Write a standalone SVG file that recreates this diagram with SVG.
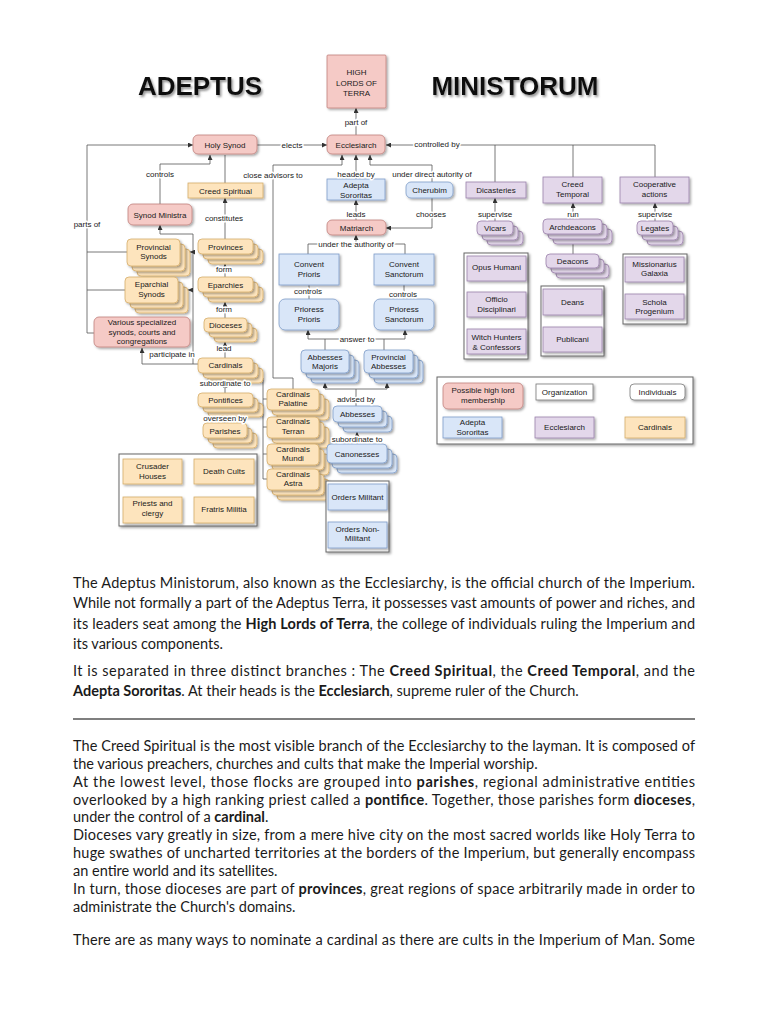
<svg xmlns="http://www.w3.org/2000/svg" width="768" height="1024" viewBox="0 0 768 1024">
<defs>
<filter id="sh" x="-20%" y="-20%" width="150%" height="160%"><feDropShadow dx="1.5" dy="1.5" stdDeviation="0.8" flood-color="#000" flood-opacity="0.35"/></filter>
<filter id="tsh" x="-10%" y="-20%" width="130%" height="160%"><feDropShadow dx="1.5" dy="2" stdDeviation="1.2" flood-color="#666" flood-opacity="0.7"/></filter>
<marker id="ar" viewBox="0 0 6 6" refX="6" refY="3" markerWidth="5" markerHeight="5" markerUnits="userSpaceOnUse" orient="auto"><path d="M0,0 L6,3 L0,6 z" fill="#333"/></marker>
<style>
rect{stroke-width:0.8;filter:url(#sh)}
.p{fill:#f5cac6;stroke:#c0807c}
.b{fill:#d9e6f8;stroke:#7d9cc8}
.u{fill:#e3d7ea;stroke:#9a80ab}
.o{fill:#fde4bd;stroke:#d5ad6a}
.w{fill:#fff;stroke:#777}
.g{fill:#fff;stroke:#666;stroke-width:1}
.n{font-family:"Liberation Sans",Arial,sans-serif;font-size:8px;fill:#1a1a1a;text-anchor:middle}
.l{font-family:"Liberation Sans",Arial,sans-serif;font-size:8px;fill:#1a1a1a;text-anchor:middle;paint-order:stroke;stroke:#fff;stroke-width:3px;stroke-linejoin:round}
.c path{fill:none;stroke:#555;stroke-width:0.8}
.t{font-family:"Liberation Sans",Arial,sans-serif;font-weight:bold;font-size:26px;fill:#111;text-anchor:middle;filter:url(#tsh)}
.x{font-family:Lato,"Open Sans",sans-serif;font-size:14.5px;fill:#1a1a1a}
.x tspan.bd{font-weight:bold}
</style>
</defs>
<rect x="0" y="0" width="768" height="1024" fill="#fff" style="filter:none;stroke:none"/>

<text class="t" x="200" y="95">ADEPTUS</text>
<text class="t" x="515" y="95">MINISTORUM</text>

<g id="connectors" class="c">
<path d="M356,135 V108" marker-end="url(#ar)"/>
<path d="M257,145 H327" marker-end="url(#ar)"/>
<path d="M655,177 V145 H386" marker-end="url(#ar)"/>
<path d="M495,182 V145"/>
<path d="M573,177 V145"/>
<path d="M94,333 H87 V145 H193" marker-end="url(#ar)"/>
<path d="M127,252 H87"/>
<path d="M125,290 H87"/>
<path d="M160,204 V164 H210 V155" marker-end="url(#ar)"/>
<path d="M225,155 V183"/>
<path d="M293,389 V378 H273 V165 H342 V155" marker-end="url(#ar)"/>
<path d="M356,179 V155" marker-end="url(#ar)"/>
<path d="M432,182 V165 H370 V155" marker-end="url(#ar)"/>
<path d="M356,220 V200" marker-end="url(#ar)"/>
<path d="M432,198 V228 H386" marker-end="url(#ar)"/>
<path d="M308,254 V244 H405 V254"/>
<path d="M356,244 V235" marker-end="url(#ar)"/>
<path d="M309,299 V285"/>
<path d="M404,299 V285"/>
<path d="M325,350 V339"/>
<path d="M384,350 V339"/>
<path d="M308,339 H405"/>
<path d="M308,339 V330" marker-end="url(#ar)"/>
<path d="M405,339 V330" marker-end="url(#ar)"/>
<path d="M356,406 V389"/>
<path d="M325,389 H387"/>
<path d="M325,389 V383" marker-end="url(#ar)"/>
<path d="M387,389 V383" marker-end="url(#ar)"/>
<path d="M357,444 V432" marker-end="url(#ar)"/>
<path d="M225,239 V198" marker-end="url(#ar)"/>
<path d="M225,277 V264" marker-end="url(#ar)"/>
<path d="M225,318 V302" marker-end="url(#ar)"/>
<path d="M225,358 V342" marker-end="url(#ar)"/>
<path d="M225,393 V383" marker-end="url(#ar)"/>
<path d="M225,423 V417" marker-end="url(#ar)"/>
<path d="M198,364 H142 V348" marker-end="url(#ar)"/>
<path d="M193,364 V234 H160 V225" marker-end="url(#ar)"/>
<path d="M193,252 H190" marker-end="url(#ar)"/>
<path d="M193,290 H188" marker-end="url(#ar)"/>
<path d="M263,378 V479"/>
<path d="M263,399 H267"/>
<path d="M263,427 H267"/>
<path d="M263,454 H267"/>
<path d="M263,479 H267"/>
<path d="M495,221 V198" marker-end="url(#ar)"/>
<path d="M573,219 V203" marker-end="url(#ar)"/>
<path d="M655,221 V203" marker-end="url(#ar)"/>
<path d="M573,234 V254"/>
</g>

<g id="high-lords"><rect class="p" x="327" y="55" width="59" height="53" rx="1"/><text class="n" x="356.5" y="75">HIGH</text><text class="n" x="356.5" y="85.5">LORDS OF</text><text class="n" x="356.5" y="96">TERRA</text></g>
<g id="ecclesiarch"><rect class="p" x="327" y="135" width="58" height="19" rx="5"/><text class="n" x="356" y="147.5">Ecclesiarch</text></g>
<g id="holy-synod"><rect class="p" x="193" y="135" width="64" height="19" rx="5"/><text class="n" x="225" y="147.5">Holy Synod</text></g>
<g id="adepta-sororitas"><rect class="b" x="327" y="179" width="58" height="21"/><text class="n" x="356" y="187.5">Adepta</text><text class="n" x="356" y="197.5">Sororitas</text></g>
<g id="cherubim"><rect class="b" x="406" y="182" width="47" height="16" rx="5"/><text class="n" x="429.5" y="193">Cherubim</text></g>
<g id="dicasteries"><rect class="u" x="466" y="182" width="60" height="16"/><text class="n" x="496" y="193">Dicasteries</text></g>
<g id="creed-temporal"><rect class="u" x="543" y="177" width="59" height="26"/><text class="n" x="572.5" y="187">Creed</text><text class="n" x="572.5" y="196.5">Temporal</text></g>
<g id="cooperative-actions"><rect class="u" x="620" y="177" width="69" height="26"/><text class="n" x="654.5" y="187">Cooperative</text><text class="n" x="654.5" y="196.5">actions</text></g>
<g id="creed-spiritual"><rect class="o" x="188" y="183" width="75" height="15"/><text class="n" x="225.5" y="193.5">Creed Spiritual</text></g>
<g id="synod-ministra"><rect class="p" x="128" y="204" width="64" height="21" rx="5"/><text class="n" x="160" y="217.5">Synod Ministra</text></g>
<g id="matriarch"><rect class="p" x="327" y="220" width="59" height="15" rx="5"/><text class="n" x="356.5" y="230.5">Matriarch</text></g>
<g id="vicars"><rect class="u" x="487" y="231" width="36" height="14" rx="4"/><rect class="u" x="482" y="226" width="36" height="14" rx="4"/><rect class="u" x="477" y="221" width="36" height="14" rx="4"/><text class="n" x="495" y="231">Vicars</text></g>
<g id="archdeacons"><rect class="u" x="553" y="229" width="59" height="15" rx="4"/><rect class="u" x="548" y="224" width="59" height="15" rx="4"/><rect class="u" x="543" y="219" width="59" height="15" rx="4"/><text class="n" x="572.5" y="229.5">Archdeacons</text></g>
<g id="legates"><rect class="u" x="647" y="231" width="36" height="14" rx="4"/><rect class="u" x="642" y="226" width="36" height="14" rx="4"/><rect class="u" x="637" y="221" width="36" height="14" rx="4"/><text class="n" x="655" y="231">Legates</text></g>
<g id="deacons"><rect class="u" x="556" y="264" width="53" height="14" rx="4"/><rect class="u" x="551" y="259" width="53" height="14" rx="4"/><rect class="u" x="546" y="254" width="53" height="14" rx="4"/><text class="n" x="572.5" y="264">Deacons</text></g>
<g id="provinces"><rect class="o" x="208" y="249" width="55" height="15" rx="4"/><rect class="o" x="203" y="244" width="55" height="15" rx="4"/><rect class="o" x="198" y="239" width="55" height="15" rx="4"/><text class="n" x="225.5" y="249.5">Provinces</text></g>
<g id="provincial-synods"><rect class="o" x="137" y="249" width="53" height="27" rx="4"/><rect class="o" x="132" y="244" width="53" height="27" rx="4"/><rect class="o" x="127" y="239" width="53" height="27" rx="4"/><text class="n" x="153.5" y="249.7">Provincial</text><text class="n" x="153.5" y="259">Synods</text></g>
<g id="convent-prioris"><rect class="b" x="279" y="254" width="60" height="31"/><text class="n" x="309" y="267">Convent</text><text class="n" x="309" y="276.5">Prioris</text></g>
<g id="convent-sanctorum"><rect class="b" x="374" y="254" width="60" height="31"/><text class="n" x="404" y="267">Convent</text><text class="n" x="404" y="276.5">Sanctorum</text></g>
<g id="eparchies"><rect class="o" x="208" y="287" width="55" height="15" rx="4"/><rect class="o" x="203" y="282" width="55" height="15" rx="4"/><rect class="o" x="198" y="277" width="55" height="15" rx="4"/><text class="n" x="225.5" y="287.5">Eparchies</text></g>
<g id="eparchial-synods"><rect class="o" x="135" y="287" width="53" height="26" rx="4"/><rect class="o" x="130" y="282" width="53" height="26" rx="4"/><rect class="o" x="125" y="277" width="53" height="26" rx="4"/><text class="n" x="151.5" y="287.3">Eparchial</text><text class="n" x="151.5" y="296.5">Synods</text></g>
<g id="prioress-prioris"><rect class="b" x="279" y="299" width="60" height="31" rx="6"/><text class="n" x="309" y="312">Prioress</text><text class="n" x="309" y="321.5">Prioris</text></g>
<g id="prioress-sanctorum"><rect class="b" x="374" y="299" width="60" height="31" rx="6"/><text class="n" x="404" y="312">Prioress</text><text class="n" x="404" y="321.5">Sanctorum</text></g>
<g id="dioceses"><rect class="o" x="214" y="328" width="43" height="14" rx="4"/><rect class="o" x="209" y="323" width="43" height="14" rx="4"/><rect class="o" x="204" y="318" width="43" height="14" rx="4"/><text class="n" x="225.5" y="328">Dioceses</text></g>
<g id="various-synods"><rect class="p" x="94" y="317" width="96" height="30" rx="5"/><text class="n" x="142" y="325.3">Various specialized</text><text class="n" x="142" y="334.7">synods, courts and</text><text class="n" x="142" y="344">congregations</text></g>
<g id="abbesses-majoris"><rect class="b" x="311" y="360" width="48" height="23" rx="4"/><rect class="b" x="306" y="355" width="48" height="23" rx="4"/><rect class="b" x="301" y="350" width="48" height="23" rx="4"/><text class="n" x="325" y="359.7">Abbesses</text><text class="n" x="325" y="369">Majoris</text></g>
<g id="provincial-abbesses"><rect class="b" x="374" y="360" width="49" height="23" rx="4"/><rect class="b" x="369" y="355" width="49" height="23" rx="4"/><rect class="b" x="364" y="350" width="49" height="23" rx="4"/><text class="n" x="388.5" y="359.7">Provincial</text><text class="n" x="388.5" y="369">Abbesses</text></g>
<g id="cardinals"><rect class="o" x="208" y="368" width="55" height="15" rx="4"/><rect class="o" x="203" y="363" width="55" height="15" rx="4"/><rect class="o" x="198" y="358" width="55" height="15" rx="4"/><text class="n" x="225.5" y="368">Cardinals</text></g>
<g id="pontifices"><rect class="o" x="208" y="403" width="55" height="14" rx="4"/><rect class="o" x="203" y="398" width="55" height="14" rx="4"/><rect class="o" x="198" y="393" width="55" height="14" rx="4"/><text class="n" x="225.5" y="402.5">Pontifices</text></g>
<g id="parishes"><rect class="o" x="213" y="433" width="44" height="15" rx="4"/><rect class="o" x="208" y="428" width="44" height="15" rx="4"/><rect class="o" x="203" y="423" width="44" height="15" rx="4"/><text class="n" x="225" y="434">Parishes</text></g>
<g id="cardinals-palatine"><rect class="o" x="277" y="399" width="52" height="21" rx="4"/><rect class="o" x="272" y="394" width="52" height="21" rx="4"/><rect class="o" x="267" y="389" width="52" height="21" rx="4"/><text class="n" x="293" y="397">Cardinals</text><text class="n" x="293" y="406.3">Palatine</text></g>
<g id="cardinals-terran"><rect class="o" x="277" y="427" width="52" height="21" rx="4"/><rect class="o" x="272" y="422" width="52" height="21" rx="4"/><rect class="o" x="267" y="417" width="52" height="21" rx="4"/><text class="n" x="293" y="424">Cardinals</text><text class="n" x="293" y="433.7">Terran</text></g>
<g id="cardinals-mundi"><rect class="o" x="277" y="454" width="52" height="21" rx="4"/><rect class="o" x="272" y="449" width="52" height="21" rx="4"/><rect class="o" x="267" y="444" width="52" height="21" rx="4"/><text class="n" x="293" y="452">Cardinals</text><text class="n" x="293" y="461.3">Mundi</text></g>
<g id="cardinals-astra"><rect class="o" x="277" y="479" width="52" height="21" rx="4"/><rect class="o" x="272" y="474" width="52" height="21" rx="4"/><rect class="o" x="267" y="469" width="52" height="21" rx="4"/><text class="n" x="293" y="476.7">Cardinals</text><text class="n" x="293" y="486.3">Astra</text></g>
<g id="abbesses"><rect class="b" x="343" y="416" width="49" height="16" rx="4"/><rect class="b" x="338" y="411" width="49" height="16" rx="4"/><rect class="b" x="333" y="406" width="49" height="16" rx="4"/><text class="n" x="357.5" y="417">Abbesses</text></g>
<g id="canonesses"><rect class="b" x="337" y="454" width="60" height="19" rx="4"/><rect class="b" x="332" y="449" width="60" height="19" rx="4"/><rect class="b" x="327" y="444" width="60" height="19" rx="4"/><text class="n" x="357" y="457">Canonesses</text></g>

<g id="spiritual-group"><rect class="g" x="119" y="454" width="138" height="72"/>
<rect class="o" x="123" y="459" width="59" height="25"/><text class="n" x="152.5" y="469">Crusader</text><text class="n" x="152.5" y="478.7">Houses</text>
<rect class="o" x="194" y="459" width="60" height="25"/><text class="n" x="224" y="474">Death Cults</text>
<rect class="o" x="123" y="497" width="59" height="26"/><text class="n" x="152.5" y="506.3">Priests and</text><text class="n" x="152.5" y="516.3">clergy</text>
<rect class="o" x="194" y="497" width="60" height="26"/><text class="n" x="224" y="512">Fratris Militia</text></g>
<g id="orders-group"><rect class="g" x="326" y="481" width="63" height="71"/>
<rect class="b" x="328" y="484" width="59" height="26"/><text class="n" x="357.5" y="499.7">Orders Militant</text>
<rect class="b" x="328" y="522" width="59" height="26"/><text class="n" x="357.5" y="532.3">Orders Non-</text><text class="n" x="357.5" y="541.3">Militant</text></g>
<g id="dicasteries-group"><rect class="g" x="464" y="253" width="64" height="106"/>
<rect class="u" x="467" y="256" width="59" height="25"/><text class="n" x="496.5" y="269.7">Opus Humani</text>
<rect class="u" x="467" y="292" width="59" height="25"/><text class="n" x="496.5" y="302">Officio</text><text class="n" x="496.5" y="311.7">Disciplinari</text>
<rect class="u" x="467" y="329" width="59" height="25"/><text class="n" x="496.5" y="339.7">Witch Hunters</text><text class="n" x="496.5" y="349.7">&amp; Confessors</text></g>
<g id="deacons-group"><rect class="g" x="541" y="286" width="63" height="70"/>
<rect class="u" x="543" y="289" width="59" height="26"/><text class="n" x="572.5" y="304.7">Deans</text>
<rect class="u" x="543" y="327" width="59" height="25"/><text class="n" x="572.5" y="342.3">Publicani</text></g>
<g id="cooperative-group"><rect class="g" x="623" y="254" width="64" height="70"/>
<rect class="u" x="625" y="257" width="59" height="25"/><text class="n" x="654.5" y="267">Missionarius</text><text class="n" x="654.5" y="276.3">Galaxia</text>
<rect class="u" x="625" y="294" width="59" height="25"/><text class="n" x="654.5" y="304.7">Schola</text><text class="n" x="654.5" y="314">Progenium</text></g>
<g id="legend"><rect class="g" x="437" y="377" width="256" height="67"/>
<rect class="p" x="443" y="383" width="80" height="26" rx="5"/><text class="n" x="483" y="393">Possible high lord</text><text class="n" x="483" y="403">membership</text>
<rect class="w" x="536" y="384" width="57" height="16"/><text class="n" x="564.5" y="394.7">Organization</text>
<rect class="w" x="630" y="384" width="55" height="16" rx="4"/><text class="n" x="657.5" y="394.7">Individuals</text>
<rect class="b" x="443" y="417" width="59" height="21"/><text class="n" x="472.5" y="424.7">Adepta</text><text class="n" x="472.5" y="434.7">Sororitas</text>
<rect class="u" x="535" y="417" width="59" height="21"/><text class="n" x="564.5" y="429.7">Ecclesiarch</text>
<rect class="o" x="625" y="417" width="60" height="21"/><text class="n" x="655" y="429.7">Cardinals</text></g>

<g id="connector-labels">
<text class="l" x="356" y="125">part of</text>
<text class="l" x="292" y="148">elects</text>
<text class="l" x="437" y="147">controlled by</text>
<text class="l" x="87" y="227">parts of</text>
<text class="l" x="160" y="177">controls</text>
<text class="l" x="273" y="178">close advisors to</text>
<text class="l" x="356" y="177">headed by</text>
<text class="l" x="432" y="177">under direct autority of</text>
<text class="l" x="356" y="217">leads</text>
<text class="l" x="431" y="217">chooses</text>
<text class="l" x="495" y="217">supervise</text>
<text class="l" x="573" y="217">run</text>
<text class="l" x="655" y="217">supervise</text>
<text class="l" x="224" y="221">constitutes</text>
<text class="l" x="356" y="247">under the authority of</text>
<text class="l" x="224" y="272">form</text>
<text class="l" x="224" y="312">form</text>
<text class="l" x="224" y="351">lead</text>
<text class="l" x="308" y="294">controls</text>
<text class="l" x="403" y="297">controls</text>
<text class="l" x="357" y="342">answer to</text>
<text class="l" x="172" y="357">participate in</text>
<text class="l" x="225" y="386">subordinate to</text>
<text class="l" x="225" y="421">overseen by</text>
<text class="l" x="356" y="402">advised by</text>
<text class="l" x="357" y="442">subordinate to</text>
</g>

<g id="body-text">
<text class="x" x="73" y="588" textLength="622" lengthAdjust="spacing">The Adeptus Ministorum, also known as the Ecclesiarchy, is the official church of the Imperium.</text>
<text class="x" x="73" y="608" textLength="622" lengthAdjust="spacing">While not formally a part of the Adeptus Terra, it possesses vast amounts of power and riches, and</text>
<text class="x" x="73" y="629" textLength="622" lengthAdjust="spacing">its leaders seat among the <tspan class="bd">High Lords of Terra</tspan>, the college of individuals ruling the Imperium and</text>
<text class="x" x="73" y="649">its various components.</text>
<text class="x" x="73" y="676" textLength="622" lengthAdjust="spacing">It is separated in three distinct branches : The <tspan class="bd">Creed Spiritual</tspan>, the <tspan class="bd">Creed Temporal</tspan>, and the</text>
<text class="x" x="73" y="696"><tspan class="bd">Adepta Sororitas</tspan>. At their heads is the <tspan class="bd">Ecclesiarch</tspan>, supreme ruler of the Church.</text>
<path d="M73,719 H695" stroke="#555" stroke-width="1.5"/>
<text class="x" x="73" y="751" textLength="622" lengthAdjust="spacing">The Creed Spiritual is the most visible branch of the Ecclesiarchy to the layman. It is composed of</text>
<text class="x" x="73" y="769">the various preachers, churches and cults that make the Imperial worship.</text>
<text class="x" x="73" y="787" textLength="622" lengthAdjust="spacing">At the lowest level, those flocks are grouped into <tspan class="bd">parishes</tspan>, regional administrative entities</text>
<text class="x" x="73" y="805" textLength="622" lengthAdjust="spacing">overlooked by a high ranking priest called a <tspan class="bd">pontifice</tspan>. Together, those parishes form <tspan class="bd">dioceses</tspan>,</text>
<text class="x" x="73" y="822">under the control of a <tspan class="bd">cardinal</tspan>.</text>
<text class="x" x="73" y="840" textLength="622" lengthAdjust="spacing">Dioceses vary greatly in size, from a mere hive city on the most sacred worlds like Holy Terra to</text>
<text class="x" x="73" y="858" textLength="622" lengthAdjust="spacing">huge swathes of uncharted territories at the borders of the Imperium, but generally encompass</text>
<text class="x" x="73" y="876">an entire world and its satellites.</text>
<text class="x" x="73" y="894" textLength="622" lengthAdjust="spacing">In turn, those dioceses are part of <tspan class="bd">provinces</tspan>, great regions of space arbitrarily made in order to</text>
<text class="x" x="73" y="912">administrate the Church's domains.</text>
<text class="x" x="73" y="945" textLength="622" lengthAdjust="spacing">There are as many ways to nominate a cardinal as there are cults in the Imperium of Man. Some</text>
</g>
</svg>
